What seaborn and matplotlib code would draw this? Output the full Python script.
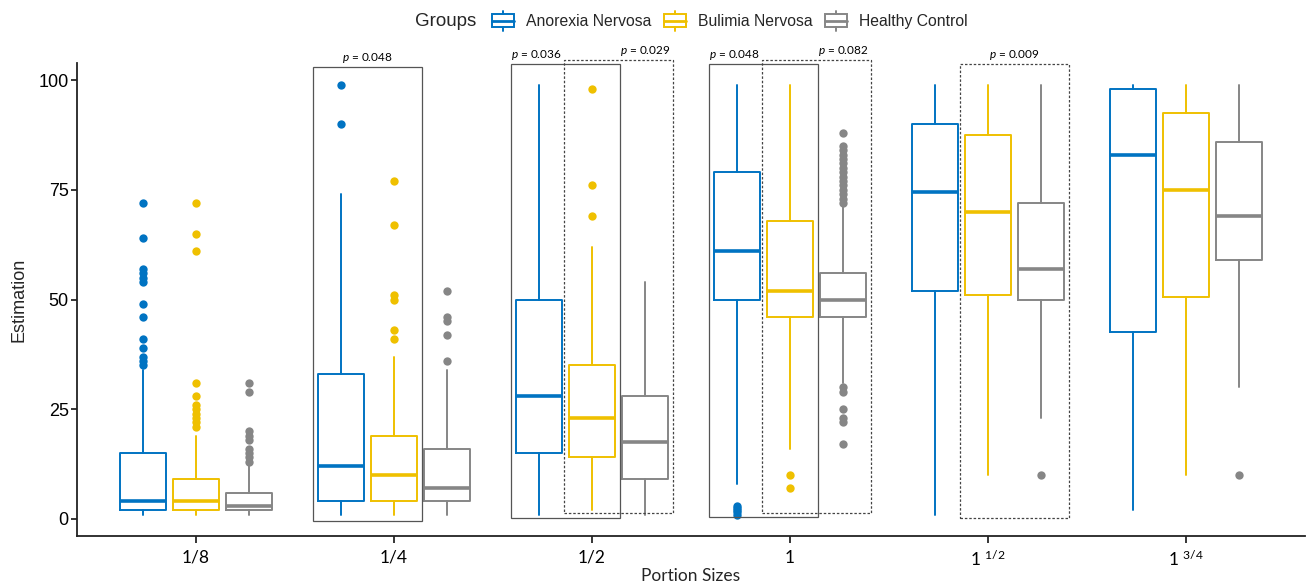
import numpy as np
import pandas as pd
import matplotlib
matplotlib.use("Agg")
import matplotlib.pyplot as plt
import seaborn as sns
from matplotlib.patches import Rectangle, Patch
from matplotlib.lines import Line2D
from matplotlib.legend_handler import HandlerBase

# categories and groups
portions = ['1/8', '1/4', '1/2', '1', '1 $^{1/2}$', '1 $^{3/4}$']
groups = ['Anorexia Nervosa', 'Bulimia Nervosa', 'Healthy Control']

# box stats (whisker low, q1, median, q3, whisker high)
an_lo = [1, 1, 1, 8, 1, 2]
an_q1 = [2, 4, 15, 50, 52, 42.5]
an_med = [4, 12, 28, 61, 74.5, 83]
an_q3 = [15, 33, 50, 79, 90, 98]
an_hi = [34, 74, 99, 99, 99, 99]
an_out = [[72, 64, 57, 56, 55, 54, 49, 46, 41, 39, 37, 36, 35], [99, 90], [],
          [3, 2.5, 2, 1.5, 1], [], []]

bn_lo = [1, 1, 2, 16, 10, 10]
bn_q1 = [2, 4, 14, 46, 51, 50.5]
bn_med = [4, 10, 23, 52, 70, 75]
bn_q3 = [9, 19, 35, 68, 87.5, 92.5]
bn_hi = [19, 37, 62, 99, 99, 99]
bn_out = [[72, 65, 61, 31, 28, 26, 25, 24, 23, 22, 21], [77, 67, 51, 50, 43, 41],
          [98, 76, 69], [10, 7], [], []]

hc_lo = [1, 1, 1, 31, 23, 30]
hc_q1 = [2, 4, 9, 46, 50, 59]
hc_med = [3, 7, 17.5, 50, 57, 69]
hc_q3 = [6, 16, 28, 56, 72, 86]
hc_hi = [12, 34, 54, 71, 99, 99]
hc_out = [[31, 29, 20, 19, 18, 16, 15, 14, 13], [52, 46, 45, 42, 36], [],
          [88, 85, 84, 83, 82, 81, 80, 79, 78, 77, 76, 75, 74, 73, 72,
           30, 29, 25, 23, 22, 17], [10], [10]]

# significance boxes: (portion index, first group, last group, p value)
sig_cat = [1, 2, 2, 3, 3, 4]
sig_from = [0, 0, 1, 0, 1, 1]
sig_to = [1, 1, 2, 1, 2, 2]
sig_p = ['0.048', '0.036', '0.029', '0.048', '0.082', '0.009']

# look of the significance boxes
sig_dashed = [False, False, True, False, True, True]
sig_top = [102.9, 103.6, 104.5, 103.6, 104.5, 103.6]
sig_bottom = [-0.5, 0.3, 1.3, 0.4, 1.3, 0.3]
sig_align = ['center', 'left', 'right', 'left', 'right', 'center']

sns.set_theme(style='ticks')
plt.rcParams['font.family'] = ['Liberation Sans', 'DejaVu Sans']
plt.rcParams['mathtext.fontset'] = 'custom'
plt.rcParams['mathtext.rm'] = 'Lato'
plt.rcParams['mathtext.it'] = 'Lato:italic'
plt.rcParams['mathtext.default'] = 'rm'

colors = sns.color_palette(['#0073C2', '#EFC000', '#868686'])

stats_by_group = [
    (an_lo, an_q1, an_med, an_q3, an_hi, an_out),
    (bn_lo, bn_q1, bn_med, bn_q3, bn_hi, bn_out),
    (hc_lo, hc_q1, hc_med, hc_q3, hc_hi, hc_out),
]

fig = plt.figure(figsize=(13.09, 5.85), dpi=100)
ax = fig.add_axes([77 / 1309, 1 - 536 / 585, 1228 / 1309, 473 / 585])

offset = 0.267
box_w = 0.231
x = np.arange(len(portions))

for g, (lo, q1, med, q3, hi, out) in enumerate(stats_by_group):
    c = colors[g]
    stats = []
    for i in range(len(portions)):
        stats.append(dict(whislo=lo[i], q1=q1[i], med=med[i], q3=q3[i],
                          whishi=hi[i], fliers=out[i]))
    ax.bxp(stats, positions=x + (g - 1) * offset, widths=box_w,
           showcaps=False, manage_ticks=False,
           boxprops=dict(color=c, lw=1.4),
           medianprops=dict(color=c, lw=2.6, solid_capstyle='butt'),
           whiskerprops=dict(color=c, lw=1.4),
           flierprops=dict(marker='o', markerfacecolor=c, markeredgecolor='none',
                           markersize=6))

# significance rectangles
pad = 0.027
for k in range(len(sig_cat)):
    left = sig_cat[k] + (sig_from[k] - 1) * offset - box_w / 2 - pad
    right = sig_cat[k] + (sig_to[k] - 1) * offset + box_w / 2 + pad
    ls = (0, (2, 1.5)) if sig_dashed[k] else '-'
    lc = '#444444' if sig_dashed[k] else '#555555'
    ax.add_patch(Rectangle((left, sig_bottom[k]), right - left,
                           sig_top[k] - sig_bottom[k], fill=False,
                           ec=lc, lw=0.9, ls=ls, zorder=5, clip_on=False))
    if sig_align[k] == 'center':
        tx = (left + right) / 2
    elif sig_align[k] == 'left':
        tx = left
    else:
        tx = right - 0.015
    ax.text(tx, sig_top[k] + 0.5, r'$\mathit{p}$ = ' + sig_p[k], ha=sig_align[k],
            va='bottom', fontsize=8.5, family='Lato', color='black', clip_on=False)

ax.set_xlim(-0.6, 5.6)
ax.set_ylim(-3.9, 103.9)
ax.set_xticks(x)
ax.set_xticklabels(portions, family='Lato', fontsize=12.5, color='black')
ax.set_yticks([0, 25, 50, 75, 100])
ax.tick_params(axis='y', labelsize=13, colors='black', length=4, width=1.1, pad=2)
ax.tick_params(axis='x', length=5, width=1.1, pad=5, colors='black')
ax.set_ylabel('Estimation', fontsize=13, labelpad=8)
ax.set_xlabel('Portion Sizes', fontsize=12.5, family='Lato', labelpad=-1)
for s in ['left', 'bottom']:
    ax.spines[s].set_linewidth(1.3)
    ax.spines[s].set_color('#222222')
sns.despine(ax=ax)


# legend with box-shaped keys
class BoxKey(HandlerBase):
    def create_artists(self, legend, orig_handle, xdescent, ydescent,
                       width, height, fontsize, trans):
        c = orig_handle.get_edgecolor()
        x0 = -xdescent
        y0 = -ydescent
        cx = x0 + width / 2
        bw = width * 0.95
        rect = Rectangle((cx - bw / 2, y0 + height * 0.1), bw, height * 0.8,
                         fill=False, ec=c, lw=1.4, transform=trans)
        med = Line2D([cx - bw / 2, cx + bw / 2], [y0 + height / 2] * 2,
                     color=c, lw=2.0, transform=trans)
        w1 = Line2D([cx, cx], [y0 - height * 0.12, y0 + height * 0.1],
                    color=c, lw=1.4, transform=trans)
        w2 = Line2D([cx, cx], [y0 + height * 0.9, y0 + height * 1.12],
                    color=c, lw=1.4, transform=trans)
        return [rect, med, w1, w2]


handles = [Patch(edgecolor=colors[i], facecolor='none', label=groups[i])
           for i in range(3)]
fig.text(415 / 1309, 1 - 21 / 585, 'Groups', fontsize=13.5, va='center', ha='left')
fig.legend(handles=handles, handler_map={Patch: BoxKey()}, loc='center left',
           bbox_to_anchor=(491 / 1309, 1 - 21 / 585), ncol=3, frameon=False,
           handlelength=1.5, handleheight=1.2, handletextpad=0.72,
           columnspacing=0.76, fontsize=11.3, borderpad=0, borderaxespad=0)

fig.savefig('out.png', dpi=100)
